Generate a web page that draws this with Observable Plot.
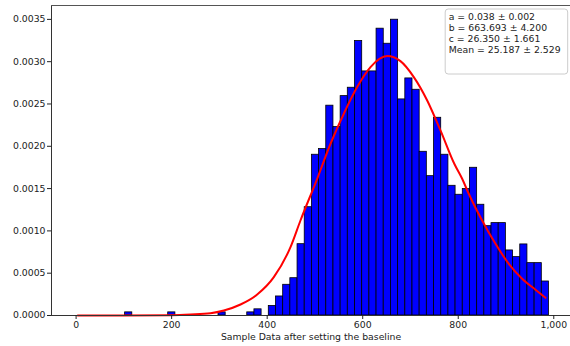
<!DOCTYPE html>
<html>
<head>
<meta charset="utf-8">
<script src="https://cdn.jsdelivr.net/npm/d3@7"></script>
<script src="https://cdn.jsdelivr.net/npm/@observablehq/plot@0.6"></script>
<style>
  html, body { margin: 0; padding: 0; background: white; }
  #chart { position: relative; width: 570px; height: 346px; }
</style>
</head>
<body>
<div id="chart"></div>
<script>
// ---- Data ----
const binWidth = 15.04;
const binLeft = [
  102.6, 192.8, 298.1, 358.3, 373.3,
  403.4, 418.4, 433.5, 448.5, 463.6, 478.6, 493.6, 508.7, 523.7, 538.8,
  553.8, 568.8, 583.9, 598.9, 614.0, 629.0, 644.0, 659.1, 674.1, 689.2,
  704.2, 719.2, 734.3, 749.3, 764.4, 779.4, 794.4, 809.5, 824.5, 839.6,
  854.6, 869.6, 884.7, 899.7, 914.8, 929.8, 944.8, 959.9, 974.9
];
const density = [
  0.000037, 0.000037, 0.000037, 0.000037, 0.000073,
  0.000113, 0.000225, 0.000363, 0.000441, 0.000843, 0.00128, 0.0019, 0.001967, 0.00248, 0.002227,
  0.002593, 0.002692, 0.003244, 0.002885, 0.002885, 0.00339, 0.003212, 0.003496, 0.002554, 0.002802,
  0.002668, 0.001935, 0.001647, 0.002337, 0.0019, 0.001533, 0.001427, 0.001494, 0.001746, 0.001309,
  0.001056, 0.001092, 0.001092, 0.000769, 0.00069, 0.00084, 0.000619, 0.000619, 0.000402
];
const fitX = [3.5, 100, 200, 239.5, 281.4, 309.3, 344.2, 379.1, 413.9, 448.8, 469.7, 504.7, 532.6,
  560.4, 588.4, 616.3, 651.2, 679, 707, 735, 762.8, 792, 808.2, 822, 850, 878, 905.8, 933.8, 961.7, 982.6];
const fitY = [0, 0.0000005, 0.000004, 0.000012, 0.000027, 0.000059, 0.00013, 0.000248, 0.000453, 0.000808,
  0.001123, 0.001616, 0.00203, 0.002385, 0.0027, 0.002936, 0.003066, 0.003007, 0.002818, 0.002542,
  0.002188, 0.00179, 0.001616, 0.001439, 0.001123, 0.000847, 0.000611, 0.000434, 0.000304, 0.000209];
const xTicks = [0, 200, 400, 600, 800, 1000];
const yTicks = [0, 0.0005, 0.001, 0.0015, 0.002, 0.0025, 0.003, 0.0035];
const xLabel = "Sample Data after setting the baseline";
const fitLines = [
  "a = 0.038 ± 0.002",
  "b = 663.693 ± 4.200",
  "c = 26.350 ± 1.661",
  "Mean = 25.187 ± 2.529"
];
const xDomain = [-51.5, 1035];
const yDomain = [0, 0.003664];

// ---- Build tables ----
const bins = binLeft.map((x1, i) => ({x1, x2: x1 + binWidth, y: density[i]}));
const fit = fitX.map((x, i) => ({x, y: fitY[i]}));

const font = "DejaVu Sans";
const plot = Plot.plot({
  width: 570,
  height: 346,
  marginLeft: 51,
  marginRight: 0,
  marginTop: 5,
  marginBottom: 31,
  style: {fontFamily: font, fontSize: "9.3px", color: "#222", background: "white", overflow: "visible"},
  x: {domain: xDomain},
  y: {domain: yDomain},
  marks: [
    Plot.rectY(bins, {x1: "x1", x2: "x2", y: "y", fill: "#0000ff", stroke: "#000", strokeWidth: 0.8}),
    Plot.line(fit, {x: "x", y: "y", stroke: "#ff0000", strokeWidth: 2, curve: "monotone-x"}),
    Plot.ruleX([xDomain[0]], {stroke: "#333", strokeWidth: 1}),
    Plot.ruleY([yDomain[1]], {stroke: "#555", strokeWidth: 1.2}),
    Plot.ruleY([0], {stroke: "#333", strokeWidth: 1}),
    Plot.axisX({ticks: xTicks, tickSize: 4, tickPadding: 2, label: null}),
    Plot.axisY({ticks: yTicks, tickFormat: d3.format(".4f"), tickSize: 4, tickPadding: 2, label: null}),
    Plot.text([xLabel], {frameAnchor: "bottom", dy: 24, fontSize: 9.3})
  ]
});

// ---- Fit-parameter box (annotation) ----
const xs = plot.scale("x"), ys = plot.scale("y");
const boxRight = xs.range[1] - 2.3;
const boxTop = ys.range[1] + 4;
const svgSel = d3.select(plot);
const g = svgSel.append("g");
g.append("rect")
  .attr("x", boxRight - 122.5).attr("y", boxTop)
  .attr("width", 122.5).attr("height", 65)
  .attr("rx", 3).attr("ry", 3)
  .attr("fill", "white").attr("fill-opacity", 0.85)
  .attr("stroke", "#cccccc").attr("stroke-width", 1);
g.selectAll("text.fit").data(fitLines).join("text")
  .attr("class", "fit")
  .attr("x", boxRight - 119)
  .attr("y", (d, i) => boxTop + 11 + i * 11)
  .attr("text-anchor", "start")
  .attr("font-family", font)
  .attr("font-size", 9.3)
  .attr("fill", "#222")
  .text(d => d);

document.getElementById("chart").appendChild(plot);
</script>
</body>
</html>
